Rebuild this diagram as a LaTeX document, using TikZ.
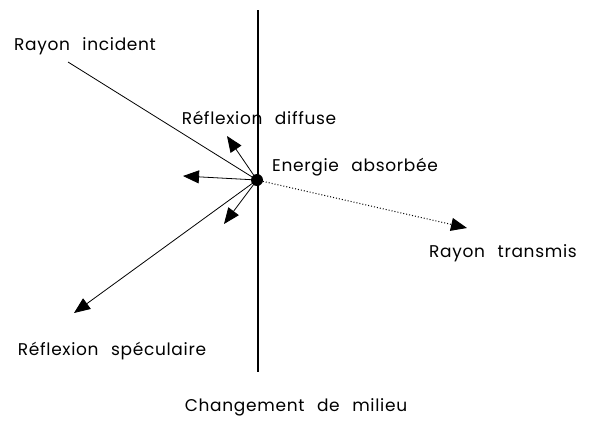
\documentclass[tikz,border=0pt]{standalone}
\usepackage{fontspec}
\setmainfont{Poppins}[LetterSpace=4,WordSpace=2.4]
\usetikzlibrary{arrows.meta}
\begin{document}
\begin{tikzpicture}[x=1pt,y=-1pt,
  lbl/.style={font=\fontsize{17}{19}\selectfont, inner sep=0pt},
  ray/.style={line width=0.8pt},
  arr/.style={ray,-{Triangle[length=16pt,width=13pt]}}]
\useasboundingbox (0,0) rectangle (598,424);
\node[lbl] (ri) at (85,46) {Rayon incident};
\node[lbl] (rd) at (259,118) {Réflexion diffuse};
\node[lbl] (ea) at (355,167) {Energie absorbée};
\node[lbl] (rt) at (503,253) {Rayon transmis};
\node[lbl] (rs) at (112,351) {Réflexion spéculaire};
\node[lbl] (cm) at (296,407) {Changement de milieu};
\coordinate (top) at (258,10);
\coordinate (bot) at (258,372);
\draw[line width=2.2pt] (top) -- (bot);
\coordinate (c) at (257,180);
\coordinate (s) at (68,62);
\coordinate (d1) at (227,136);
\coordinate (d2) at (183,176);
\coordinate (d3) at (224,224);
\coordinate (sp) at (74,313);
\coordinate (tr) at (467,228);
\draw[ray] (s) -- (c);
\draw[arr] (c) -- (d1);
\draw[arr] (c) -- (d2);
\draw[arr] (c) -- (d3);
\draw[arr] (c) -- (sp);
\draw[line width=1pt, dotted, -{Triangle[length=16pt,width=13pt]}] (c) -- (tr);
\fill (c) circle (6);
\end{tikzpicture}
\end{document}
